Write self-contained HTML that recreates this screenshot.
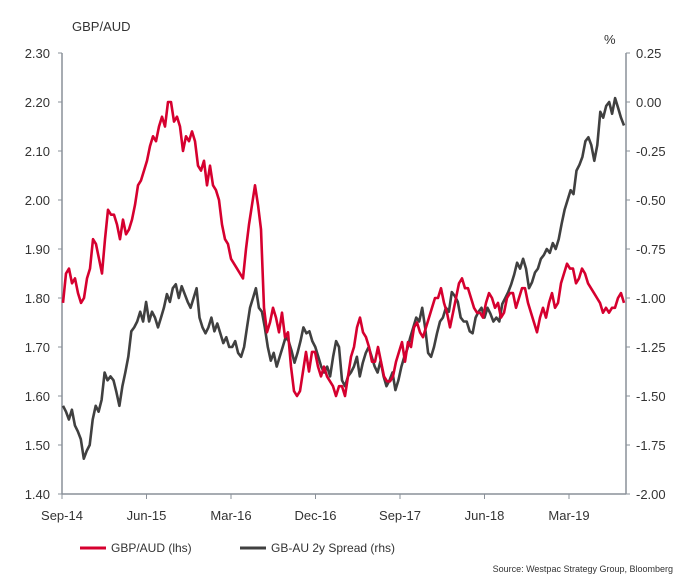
<!DOCTYPE html>
<html><head><meta charset="utf-8"><style>
body{margin:0;background:#fff;font-family:"Liberation Sans",Arial,sans-serif;}
svg text{font-family:"Liberation Sans",Arial,sans-serif;fill:#333;}
</style></head><body>
<svg id="chart" width="682" height="582" viewBox="0 0 682 582" xmlns="http://www.w3.org/2000/svg">
<text x="72" y="31" font-size="13">GBP/AUD</text>
<text x="604" y="44" font-size="13">%</text>
<g id="axes"></g>
<g id="series"></g>
<line x1="80" y1="548" x2="106" y2="548" stroke="#d6002f" stroke-width="3"/>
<text x="111" y="552" font-size="12">GBP/AUD (lhs)</text>
<line x1="240" y1="548" x2="266" y2="548" stroke="#404040" stroke-width="3"/>
<text x="271" y="552" font-size="12">GB-AU 2y Spread (rhs)</text>
<text x="673" y="572" font-size="9" text-anchor="end">Source: Westpac Strategy Group, Bloomberg</text>
</svg>
<script>
const leftTicks=["2.30","2.20","2.10","2.00","1.90","1.80","1.70","1.60","1.50","1.40"];
const rightTicks=["0.25","0.00","-0.25","-0.50","-0.75","-1.00","-1.25","-1.50","-1.75","-2.00"];
const xLabels=["Sep-14","Jun-15","Mar-16","Dec-16","Sep-17","Jun-18","Mar-19"];
const gbpaud=[1.79,1.85,1.86,1.83,1.84,1.81,1.79,1.80,1.84,1.86,1.92,1.91,1.88,1.85,1.92,1.98,1.97,1.97,1.95,1.92,1.96,1.93,1.94,1.96,1.99,2.03,2.04,2.06,2.08,2.11,2.13,2.12,2.15,2.17,2.15,2.20,2.20,2.16,2.17,2.15,2.10,2.13,2.12,2.14,2.12,2.07,2.06,2.08,2.03,2.07,2.03,2.02,2.00,1.95,1.92,1.91,1.88,1.87,1.86,1.85,1.84,1.90,1.95,1.99,2.03,1.99,1.94,1.78,1.73,1.75,1.78,1.76,1.73,1.77,1.72,1.73,1.66,1.61,1.60,1.61,1.65,1.69,1.65,1.69,1.69,1.66,1.64,1.66,1.64,1.63,1.62,1.60,1.62,1.62,1.60,1.64,1.68,1.70,1.74,1.76,1.73,1.72,1.70,1.67,1.67,1.70,1.67,1.64,1.63,1.63,1.64,1.67,1.69,1.71,1.67,1.71,1.70,1.74,1.75,1.73,1.72,1.74,1.76,1.78,1.80,1.80,1.82,1.79,1.77,1.74,1.77,1.80,1.83,1.84,1.82,1.82,1.80,1.78,1.77,1.77,1.76,1.79,1.81,1.80,1.78,1.79,1.76,1.77,1.80,1.81,1.81,1.78,1.80,1.82,1.82,1.79,1.77,1.75,1.73,1.76,1.78,1.76,1.79,1.81,1.78,1.79,1.83,1.85,1.87,1.86,1.86,1.83,1.84,1.86,1.85,1.83,1.82,1.81,1.80,1.79,1.77,1.78,1.77,1.78,1.78,1.80,1.81,1.79];
const spread=[-1.55,-1.58,-1.62,-1.57,-1.65,-1.68,-1.72,-1.82,-1.78,-1.75,-1.62,-1.55,-1.58,-1.52,-1.38,-1.42,-1.40,-1.42,-1.48,-1.55,-1.45,-1.38,-1.30,-1.17,-1.15,-1.12,-1.07,-1.12,-1.02,-1.12,-1.07,-1.10,-1.15,-1.10,-1.05,-0.98,-1.02,-0.95,-0.93,-1.00,-0.94,-0.98,-1.02,-1.05,-1.00,-0.95,-1.10,-1.15,-1.18,-1.15,-1.10,-1.17,-1.13,-1.18,-1.23,-1.20,-1.25,-1.25,-1.22,-1.28,-1.30,-1.25,-1.15,-1.05,-1.00,-0.95,-1.05,-1.07,-1.15,-1.25,-1.32,-1.28,-1.35,-1.30,-1.25,-1.20,-1.22,-1.27,-1.33,-1.28,-1.22,-1.15,-1.18,-1.17,-1.22,-1.25,-1.30,-1.35,-1.38,-1.35,-1.40,-1.30,-1.22,-1.25,-1.42,-1.45,-1.40,-1.38,-1.35,-1.30,-1.40,-1.33,-1.28,-1.25,-1.30,-1.35,-1.38,-1.32,-1.40,-1.45,-1.42,-1.38,-1.47,-1.42,-1.35,-1.30,-1.26,-1.20,-1.15,-1.10,-1.12,-1.05,-1.15,-1.28,-1.30,-1.25,-1.18,-1.12,-1.10,-1.05,-1.07,-0.97,-0.99,-1.02,-1.10,-1.12,-1.12,-1.17,-1.18,-1.10,-1.07,-1.05,-1.10,-1.05,-1.08,-1.12,-1.10,-1.12,-1.03,-1.00,-0.97,-0.93,-0.88,-0.82,-0.85,-0.80,-0.85,-0.95,-0.92,-0.87,-0.85,-0.80,-0.78,-0.75,-0.77,-0.72,-0.75,-0.70,-0.62,-0.55,-0.50,-0.45,-0.47,-0.35,-0.32,-0.28,-0.20,-0.18,-0.22,-0.30,-0.22,-0.05,-0.08,-0.02,0.00,-0.06,0.02,-0.03,-0.08,-0.12];

const NS="http://www.w3.org/2000/svg";
const L=62,R=626,T=53,B=494;
const yL=v=>T+(2.30-v)/0.90*(B-T);
const yR=v=>T+(0.25-v)/2.25*(B-T);
const xI=(i,n)=>L+1+i/(n-1)*(R-L-3);
const xLab=k=>L+k*84.5;
function mk(tag,attrs,parent){const e=document.createElementNS(NS,tag);for(const k in attrs)e.setAttribute(k,attrs[k]);parent.appendChild(e);return e;}
const ax=document.getElementById('axes');
const lAxis=mk('line',{x1:L,y1:T,x2:L,y2:B,stroke:'#8a9099','stroke-width':1.5},ax);


const rAxis=mk('line',{x1:R,y1:T,x2:R,y2:B,stroke:'#8a9099','stroke-width':1.5},ax);


const bAxis=mk('line',{x1:L,y1:B,x2:R,y2:B,stroke:'#8a9099','stroke-width':1.5},ax);


leftTicks.forEach(t=>{const y=yL(parseFloat(t));
 mk('line',{x1:L-4,y1:y,x2:L,y2:y,stroke:'#8a9099'},ax);
 const tx=mk('text',{x:L-12,y:y+5,'font-size':13,'text-anchor':'end'},ax);tx.textContent=t;
 
 });
rightTicks.forEach(t=>{const y=yR(parseFloat(t));
 mk('line',{x1:R,y1:y,x2:R+4,y2:y,stroke:'#8a9099'},ax);
 const tx=mk('text',{x:R+10,y:y+5,'font-size':13},ax);tx.textContent=t;
 
 });
xLabels.forEach((t,k)=>{const x=xLab(k);
 mk('line',{x1:x,y1:B,x2:x,y2:B+5,stroke:'#8a9099'},ax);
 const tx=mk('text',{x:x,y:B+26,'font-size':13,'text-anchor':'middle'},ax);tx.textContent=t;
 
 });
const sg=document.getElementById('series');
function path(arr,yf,color,name){const d=arr.map((v,i)=>(i?'L':'M')+xI(i,arr.length).toFixed(1)+' '+yf(v).toFixed(1)).join(' ');
 const p=mk('path',{d:d,fill:'none',stroke:color,'stroke-width':2.6,'stroke-linejoin':'round'},sg);
 
 }
path(spread,yR,'#404040','spread-line');
path(gbpaud,yL,'#d6002f','gbpaud-line');
</script>
</body></html>
